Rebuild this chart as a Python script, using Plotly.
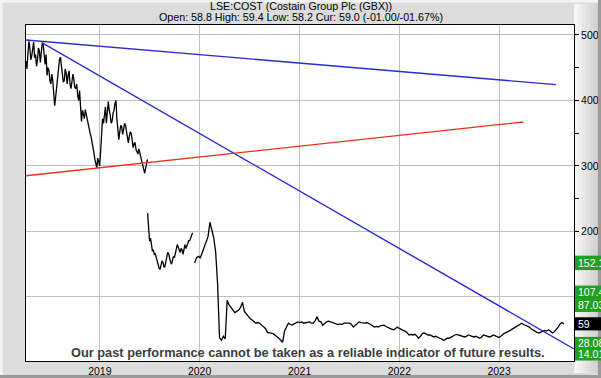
import pandas as pd
import plotly.graph_objects as go

# ---------------- data ----------------
seg1_start = "2018-04-06"   # half-weekly readings
seg1_values = [460, 448, 472, 490, 480, 462, 468, 478, 489, 465, 470, 452, 462, 480, 475, 458, 470, 488, 485, 462,
               455, 470, 438, 450, 446, 430, 425, 440, 430, 410, 392, 405, 420, 438, 445, 462, 466, 450, 440, 428,
               430, 448, 442, 425, 438, 445, 425, 418, 428, 440, 432, 420, 418, 425, 408, 400, 415, 395, 368, 385,
               380, 372, 386, 378, 372, 365, 358, 350, 345, 338, 330, 320, 310, 300, 297, 312, 306, 300, 322, 345,
               372, 365, 380, 390, 365, 378, 398, 385, 378, 365, 368, 380, 385, 395, 400, 372, 346, 340, 352, 362,
               360, 348, 355, 365, 362, 350, 340, 335, 345, 352, 350, 338, 328, 334, 336, 325, 322, 318, 326, 320,
               312, 305, 300, 295, 289, 296, 306, 310]
seg2_start = "2019-06-25"   # half-weekly readings
seg2_values = [228, 200, 185, 190, 176, 170, 172, 165, 166, 160, 158, 150, 144, 142, 150, 155, 153, 146, 146, 152,
               160, 168, 166, 158, 153, 150, 156, 162, 160, 168, 172, 180, 176, 170, 168, 174, 172, 165, 175, 180,
               174, 178, 180, 186, 186, 190, 195, 198]
seg3_start = "2019-12-14"   # weekly readings
seg3_values = [152, 160, 162, 160, 168, 176, 184, 192, 214, 203,
               190, 168, 120, 38, 34, 40, 36, 95, 88, 84,
               80, 76, 78, 80, 84, 92, 78, 74, 70, 67,
               65, 63, 60, 61, 60, 57, 54, 52, 46, 46,
               45, 44, 42, 40, 37, 34, 31, 48, 54, 60,
               58, 57, 59, 60, 62, 61, 62, 60, 61, 62,
               62, 60, 60, 64, 70, 63, 62, 57, 60, 62,
               63, 62, 61, 60, 59, 58, 59, 58, 60, 60,
               59, 60, 58, 54, 57, 60, 62, 61, 60, 60,
               61, 60, 58, 56, 54, 55, 54, 56, 57, 57,
               55, 53, 52, 51, 50, 52, 54, 52, 50, 49,
               48, 46, 42, 43, 42, 43, 41, 37, 40, 44,
               45, 43, 42, 42, 41, 39, 40, 38, 37, 36,
               34, 35, 37, 37, 39, 41, 42, 43, 42, 41,
               40, 39, 40, 42, 41, 40, 39, 40, 38, 37,
               39, 42, 41, 40, 39, 40, 42, 41, 39, 38,
               40, 43, 45, 46, 47, 49, 51, 53, 54, 56,
               58, 60, 58, 57, 55, 54, 51, 49, 47, 46,
               45, 47, 48, 49, 48, 50, 47, 45, 47, 50,
               54, 59, 61, 59]

blue1_dates = ["2018-04-06", "2023-07-28"]
blue1_values = [492, 424]
blue2_dates = ["2018-06-03", "2023-10-02"]
blue2_values = [488, 20.6]
red_dates = ["2018-04-06", "2023-03-30"]
red_values = [285, 367]

level_values = [152.1, 107.4, 87.03, 59.0, 28.08, 14.01]
level_texts = ["152.1", "107.4", "87.03", "59", "28.08", "14.01"]

year_ticks = ["2019-01-01", "2020-01-01", "2021-01-01", "2022-01-01", "2023-01-01"]
year_labels = ["2019", "2020", "2021", "2022", "2023"]
y_ticks = [100, 200, 300, 400, 500]
y_labels = ["", "200", "300", "400", "500"]

title1 = "LSE:COST (Costain Group Plc (GBX))"
title2 = "Open: 58.8 High: 59.4 Low: 58.2 Cur: 59.0 (-01.00/-01.67%)"
disclaimer = "Our past performance cannot be taken as a reliable indicator of future results."

# ---------------- build price series ----------------
px_x, px_y = [], []
for start, vals, step in [(seg1_start, seg1_values, "84h"),
                          (seg2_start, seg2_values, "84h"),
                          (seg3_start, seg3_values, "7D")]:
    dates = pd.date_range(start, periods=len(vals), freq=step)
    if px_x:
        px_x.append(px_x[-1] + pd.Timedelta(hours=12))
        px_y.append(None)
    px_x.extend(list(dates))
    px_y.extend(vals)

W, H = 601, 378
L, R, T, B = 26, 27, 25, 17
pw, ph = W - L - R, H - T - B

def fx(px):
    return (px - L) / pw

def fy(py):
    return (H - B - py) / ph

fig = go.Figure()
fig.add_trace(go.Scatter(x=px_x, y=px_y, mode="lines",
                         line=dict(color="#000000", width=1.3),
                         connectgaps=False, hoverinfo="skip"))
fig.add_trace(go.Scatter(x=blue1_dates, y=blue1_values, mode="lines",
                         line=dict(color="#2a2ad0", width=1.4), hoverinfo="skip"))
fig.add_trace(go.Scatter(x=blue2_dates, y=blue2_values, mode="lines",
                         line=dict(color="#2a2ad0", width=1.4), hoverinfo="skip"))
fig.add_trace(go.Scatter(x=red_dates, y=red_values, mode="lines",
                         line=dict(color="#e8301c", width=1.4), hoverinfo="skip"))

shapes = []
# right margin gradient
grad = ["#f6f6f6", "#efefef", "#e8e8e8", "#e1e1e1", "#dadada", "#d3d3d3", "#cccccc"]
sw = (W - (L + pw)) / len(grad)
for i, c in enumerate(grad):
    shapes.append(dict(type="rect", xref="paper", yref="paper",
                       x0=fx(L + pw + i * sw), x1=fx(L + pw + (i + 1) * sw + 0.5),
                       y0=fy(H - 5), y1=fy(4), fillcolor=c, line_width=0, layer="below"))
# outer bevel frame
shapes.append(dict(type="line", xref="paper", yref="paper", x0=fx(0), x1=fx(W), y0=fy(1), y1=fy(1),
                   line=dict(color="#f4f4f4", width=3)))
shapes.append(dict(type="line", xref="paper", yref="paper", x0=fx(1), x1=fx(1), y0=fy(0), y1=fy(H),
                   line=dict(color="#f4f4f4", width=3)))
shapes.append(dict(type="line", xref="paper", yref="paper", x0=fx(0), x1=fx(W), y0=fy(H - 1.5), y1=fy(H - 1.5),
                   line=dict(color="#9a9a9a", width=3)))
shapes.append(dict(type="line", xref="paper", yref="paper", x0=fx(W - 1.5), x1=fx(W - 1.5), y0=fy(0), y1=fy(H),
                   line=dict(color="#9a9a9a", width=3)))

# level boxes
green = "#1fa01f"
box_specs = [(level_values[0] - 11, level_values[0] + 11, green),
             (level_values[2] - 10, level_values[1] + 10, green),
             (level_values[3] - 10, level_values[3] + 10, "#000000"),
             (3.0, level_values[4] + 11, green)]
for y0, y1, c in box_specs:
    shapes.append(dict(type="rect", xref="paper", yref="y", x0=fx(L + pw + 1), x1=fx(W + 5),
                       y0=y0, y1=y1, fillcolor=c, line_width=0, layer="above"))

annotations = [
    dict(text=title1, xref="paper", yref="paper", x=fx(301), y=fy(6), showarrow=False,
         xanchor="center", yanchor="middle", font=dict(family="Liberation Sans, Arial", size=10.7, color="#000")),
    dict(text=title2, xref="paper", yref="paper", x=fx(301), y=fy(17.5), showarrow=False,
         xanchor="center", yanchor="middle", font=dict(family="Liberation Sans, Arial", size=10.7, color="#000")),
    dict(text="<b>" + disclaimer + "</b>", xref="paper", yref="paper", x=fx(307.5), y=fy(352),
         showarrow=False, xanchor="center", yanchor="middle",
         font=dict(family="Liberation Sans, Arial", size=12.8, color="#3c3c3c")),
]
label_shift = [0, 0, 0, 0, 1, -1]   # pixel nudge so the stacked labels don't collide
for v, t, s in zip(level_values, level_texts, label_shift):
    annotations.append(dict(text=t, xref="paper", yref="y", x=fx(L + pw + 2), y=v, showarrow=False,
                            xanchor="left", yanchor="middle", yshift=s,
                            font=dict(family="Liberation Sans, Arial", size=10.5, color="#ffffff")))

fig.update_layout(
    width=W, height=H,
    margin=dict(l=L, r=R, t=T, b=B, pad=0),
    paper_bgcolor="#dcdcdc",
    plot_bgcolor="#ffffff",
    showlegend=False,
    shapes=shapes,
    annotations=annotations,
    xaxis=dict(type="date", range=["2018-04-06", "2023-10-02"], automargin=False,
               tickvals=year_ticks, ticktext=year_labels,
               showgrid=True, gridcolor="#c0c0c0", gridwidth=1,
               showline=True, linecolor="#000000", linewidth=1, mirror=True,
               ticks="", tickfont=dict(family="Liberation Sans, Arial", size=10.5, color="#000"),
               zeroline=False, fixedrange=True),
    yaxis=dict(side="right", range=[2.3, 515], automargin=False,
               tickvals=y_ticks, ticktext=y_labels,
               showgrid=True, gridcolor="#c0c0c0", gridwidth=1,
               showline=True, linecolor="#000000", linewidth=1, mirror=True,
               ticks="outside", ticklen=4, tickcolor="#000",
               minor=dict(dtick=50, ticks="outside", ticklen=4, tickcolor="#000", showgrid=False),
               tickfont=dict(family="Liberation Sans, Arial", size=10.5, color="#000"),
               zeroline=False, fixedrange=True),
)

fig.write_html("out.html")
